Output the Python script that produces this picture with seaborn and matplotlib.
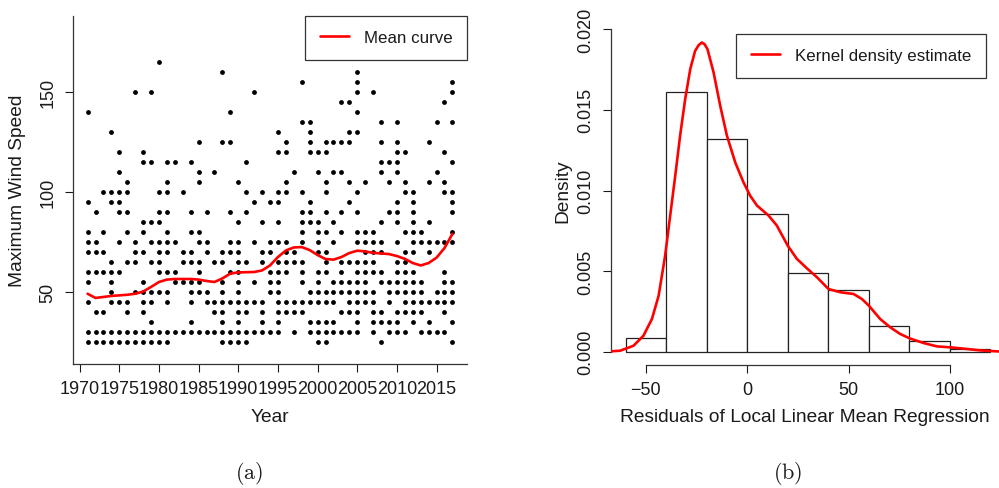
import matplotlib
matplotlib.use("Agg")
import matplotlib.pyplot as plt
import numpy as np
import pandas as pd
import seaborn as sns

# ---------------- Panel (a): maximum wind speed by year ----------------
# years in which each wind-speed level occurs (one dot per year/level)
yrs_165 = [1980]
yrs_160 = [1988, 2005]
yrs_155 = [1998, 2005, 2017]
yrs_150 = [1977, 1979, 1992, 2005, 2007, 2017]
yrs_145 = [2003, 2004, 2016]
yrs_140 = [1971, 1989, 2005]
yrs_135 = [1998, 1999, 2008, 2010, 2015, 2017]
yrs_130 = [1974, 1995, 1999, 2004, 2005]
yrs_125 = [1985, 1988, 1989, 1996, 1999, 2001, 2002, 2003, 2004, 2008, 2010, 2014]
yrs_120 = [1975, 1978, 1995, 1996, 1999, 2000, 2001, 2010, 2011, 2016]
yrs_115 = [1978, 1979, 1981, 1982, 1984, 1991, 2008, 2009, 2010, 2017]
yrs_110 = [1975, 1985, 1987, 1997, 2000, 2002, 2003, 2008, 2010, 2015]
yrs_105 = [1976, 1981, 1985, 1990, 1996, 2001, 2004, 2006, 2009, 2011, 2014, 2016]
yrs_100 = [1973, 1974, 1975, 1976, 1980, 1981, 1983, 1991, 1993, 1995, 1996, 1998,
           2001, 2005, 2011, 2012, 2016, 2017]
yrs_095 = [1971, 1974, 1975, 1992, 1994, 1995, 1999, 2004, 2010, 2012, 2017]
yrs_090 = [1972, 1975, 1976, 1980, 1981, 1984, 1986, 1989, 1991, 1998, 1999, 2001,
           2003, 2005, 2009, 2010, 2012, 2017]
yrs_085 = [1978, 1979, 1980, 1990, 1993, 1995, 1998, 1999, 2000, 2002, 2008, 2010,
           2012, 2014]
yrs_080 = [1971, 1973, 1976, 1978, 1981, 1984, 1985, 1998, 2000, 2001, 2003, 2005,
           2006, 2007, 2011, 2012, 2013, 2017]
yrs_075 = [1971, 1972, 1975, 1977, 1979, 1980, 1981, 1982, 1985, 1986, 1989, 1990,
           1992, 1994, 1995, 1996, 1998, 2000, 2002, 2005, 2006, 2007, 2008, 2010,
           2012, 2013, 2014, 2015, 2016, 2017]
yrs_070 = [1971, 1972, 1973, 1977, 1978, 1980, 1981, 1983, 1984, 1986, 1988, 1989,
           1990, 1993, 1994, 1996, 1997, 2000, 2001, 2006, 2007, 2008, 2011, 2012, 2014]
yrs_065 = [1974, 1976, 1977, 1979, 1980, 1983, 1984, 1985, 1987, 1988, 1990, 1991,
           1993, 1995, 1996, 1997, 1998, 2001, 2003, 2004, 2005, 2006, 2007, 2010, 2011]
yrs_060 = [1971, 1972, 1973, 1974, 1975, 1980, 1981, 1982, 1985, 1989, 1990, 1994,
           1995, 1996, 1998, 2000, 2001, 2003, 2005, 2006, 2007, 2008, 2010, 2011,
           2012, 2016]
yrs_055 = [1971, 1974, 1978, 1982, 1983, 1984, 1985, 1988, 1990, 1992, 1994, 1995,
           1998, 2000, 2002, 2003, 2004, 2005, 2006, 2008, 2009, 2010, 2011, 2012,
           2013, 2016, 2017]
yrs_050 = [1974, 1977, 1978, 1979, 1980, 1981, 1984, 1985, 1986, 1988, 1990, 1994,
           1995, 1999, 2000, 2001, 2002, 2003, 2004, 2005, 2006, 2007, 2009, 2010,
           2011, 2012, 2013, 2015, 2016, 2017]
yrs_045 = [1971, 1974, 1975, 1976, 1978, 1979, 1981, 1984, 1986, 1987, 1988, 1989,
           1990, 1991, 1992, 1993, 1995, 1996, 1997, 1998, 1999, 2000, 2001, 2002,
           2004, 2005, 2006, 2007, 2009, 2011, 2012, 2013, 2014, 2015, 2016, 2017]
yrs_040 = [1972, 1973, 1976, 1978, 1987, 1988, 1990, 1991, 1993, 1995, 1996, 1997,
           1998, 2003, 2004, 2005, 2007, 2008, 2010, 2011, 2012, 2013, 2016]
yrs_035 = [1979, 1984, 1988, 1990, 1993, 1995, 1999, 2000, 2001, 2002, 2005, 2007,
           2008, 2009, 2010, 2012, 2014, 2017]
yrs_030 = [1971, 1972, 1973, 1974, 1975, 1976, 1977, 1978, 1979, 1980, 1981, 1982,
           1983, 1984, 1985, 1986, 1987, 1988, 1989, 1990, 1991, 1992, 1993, 1994,
           1995, 1997, 1999, 2000, 2001, 2002, 2003, 2004, 2005, 2007, 2009, 2010,
           2011, 2013, 2014, 2015, 2016]
yrs_025 = [1971, 1972, 1973, 1974, 1975, 1976, 1977, 1978, 1979, 1980, 1981, 1988,
           1989, 1990, 1991, 2000, 2001, 2008, 2017]

speed_levels = [25, 30, 35, 40, 45, 50, 55, 60, 65, 70, 75, 80, 85, 90, 95, 100,
                105, 110, 115, 120, 125, 130, 135, 140, 145, 150, 155, 160, 165]
years_by_level = [yrs_025, yrs_030, yrs_035, yrs_040, yrs_045, yrs_050, yrs_055,
                  yrs_060, yrs_065, yrs_070, yrs_075, yrs_080, yrs_085, yrs_090,
                  yrs_095, yrs_100, yrs_105, yrs_110, yrs_115, yrs_120, yrs_125,
                  yrs_130, yrs_135, yrs_140, yrs_145, yrs_150, yrs_155, yrs_160,
                  yrs_165]

# mean curve (local linear regression), one value per year
mean_years = list(range(1971, 2018))
mean_curve = [49.1, 47.0, 47.5, 48.0, 48.3, 48.6, 49.1, 50.2, 52.5, 55.0, 56.2, 56.5,
              56.5, 56.5, 56.2, 55.5, 55.0, 56.8, 59.2, 59.8, 59.9, 60.0, 60.8, 63.3,
              67.5, 70.8, 72.3, 72.5, 71.0, 68.5, 66.5, 66.2, 67.5, 69.5, 70.7, 70.3,
              69.6, 69.3, 69.0, 68.0, 66.6, 64.5, 63.3, 64.5, 67.2, 72.0, 79.1]

year_ticks = [1970, 1975, 1980, 1985, 1990, 1995, 2000, 2005, 2010, 2015]
speed_ticks = [50, 100, 150]

# ---------------- Panel (b): residual histogram + KDE ----------------
bin_edges = [-60, -40, -20, 0, 20, 40, 60, 80, 100, 120]
bin_density = [0.00083, 0.01609, 0.01321, 0.00857, 0.00491, 0.00385, 0.00161,
               0.00064, 0.00019]

kde_x = [-67.6, -62.7, -56.1, -51.2, -47.0, -43.7, -40.5, -38.0, -35.5, -33.1,
         -30.6, -28.1, -25.7, -24.0, -22.4, -21.0, -19.6, -16.6, -13.3, -10.0,
         -5.9, -1.8, 1.5, 4.8, 10.5, 14.6, 20, 24.5, 29.4, 34.4, 40.1, 45.9, 52.5,
         56.6, 60, 65.6, 70.6, 75.5, 80.1, 87, 93.6, 100.2, 108.4, 115, 124.8]
kde_y = [0.00002, 0.00006, 0.00037, 0.00099, 0.00203, 0.00347, 0.00595, 0.00844,
         0.01092, 0.0134, 0.01567, 0.01753, 0.01866, 0.01901, 0.01918, 0.01907,
         0.01877, 0.01733, 0.01525, 0.0134, 0.01174, 0.0105, 0.00967, 0.00907,
         0.00845, 0.00783, 0.00658, 0.00576, 0.00518, 0.00462, 0.00389, 0.00369,
         0.00358, 0.00327, 0.00286, 0.00203, 0.00151, 0.0011, 0.00083, 0.00054,
         0.00033, 0.00027, 0.00017, 0.00008, 0.00001]

density_ticks = [0.000, 0.005, 0.010, 0.015, 0.020]
resid_ticks = [-50, 0, 50, 100]

# ---------------- build tables ----------------
scatter_df = pd.DataFrame(
    [(y, lvl) for lvl, yrs in zip(speed_levels, years_by_level) for y in yrs],
    columns=["Year", "Speed"])
mean_df = pd.DataFrame({"Year": mean_years, "Mean": mean_curve})
mids = [(a + b) / 2 for a, b in zip(bin_edges[:-1], bin_edges[1:])]
hist_df = pd.DataFrame({"mid": mids, "dens": bin_density})
kde_df = pd.DataFrame({"x": kde_x, "y": kde_y})

# ---------------- style ----------------
sns.set_style("ticks")
plt.rcParams["font.family"] = ["Liberation Sans", "DejaVu Sans"]
plt.rcParams["mathtext.fontset"] = "cm"
TXT = "#1a1a1a"
plt.rcParams["text.color"] = TXT
plt.rcParams["axes.labelcolor"] = TXT
plt.rcParams["xtick.color"] = TXT
plt.rcParams["ytick.color"] = TXT

W, H = 999, 489
fig = plt.figure(figsize=(W / 100, H / 100), dpi=100)
axL = fig.add_axes([73 / W, 124 / H, 394 / W, 348 / H])
axR = fig.add_axes([611 / W, 123.4 / H, 394 / W, 348.2 / H])

TICK_FS = 13
LAB_FS = 13.8
LEG_FS = 12.2

# ---- left panel ----
sns.scatterplot(data=scatter_df, x="Year", y="Speed", color="black", s=12,
                linewidth=0, ax=axL, legend=False, zorder=2)
sns.lineplot(data=mean_df, x="Year", y="Mean", color="red", lw=1.9, ax=axL,
             label="Mean curve", zorder=3)
axL.set_xlim(1969.16, 2018.84)
axL.set_ylim(13.9, 188.3)
axL.set_xticks(year_ticks)
axL.set_xticklabels([str(t) for t in year_ticks])
axL.set_yticks(speed_ticks)
axL.set_yticklabels([str(t) for t in speed_ticks], rotation=90, va="center")
for s in ["top", "right"]:
    axL.spines[s].set_visible(False)
for s in ["left", "bottom"]:
    axL.spines[s].set_color("#333333")
    axL.spines[s].set_linewidth(0.9)
axL.tick_params(direction="out", length=5.8, width=0.8, labelsize=TICK_FS, pad=6)
axL.set_xlabel("Year", fontsize=LAB_FS)
axL.set_ylabel("Maximum Wind Speed", fontsize=LAB_FS)
axL.xaxis.set_label_coords(0.5, (489 - 418 - 124) / 348)
axL.xaxis.label.set_va("center")
axL.yaxis.set_label_coords((18 - 73) / 394, 0.5)
axL.yaxis.label.set_va("center")
legL = axL.legend(loc="upper right", frameon=True, fancybox=False, borderaxespad=0,
                  fontsize=LEG_FS, handlelength=1.75, handletextpad=0.85,
                  borderpad=0.85)
legL.get_frame().set_edgecolor("#333333")
legL.get_frame().set_linewidth(0.9)
legL.get_frame().set_alpha(1)

# ---- right panel ----
sns.histplot(data=hist_df, x="mid", weights="dens", bins=bin_edges, stat="count",
             color="white", edgecolor="#222222", linewidth=0.9, alpha=1, ax=axR,
             zorder=2)
sns.lineplot(data=kde_df, x="x", y="y", color="red", lw=1.9, ax=axR,
             label="Kernel density estimate", zorder=3)
axR.set_xlim(-67.2, 127.2)
axR.set_ylim(-0.0008, 0.0208)
axR.set_xticks(resid_ticks)
axR.set_xticklabels([str(t).replace("-", "\u2212") for t in resid_ticks])
axR.set_yticks(density_ticks)
axR.set_yticklabels([f"{t:.3f}" for t in density_ticks], rotation=90, va="center")
for s in ["top", "right"]:
    axR.spines[s].set_visible(False)
for s in ["left", "bottom"]:
    axR.spines[s].set_color("#333333")
    axR.spines[s].set_linewidth(0.9)
axR.spines["left"].set_bounds(0, 0.02)
axR.spines["bottom"].set_bounds(-50, 100)
axR.tick_params(direction="out", length=5.8, width=0.8, labelsize=TICK_FS, pad=6)
axR.set_xlabel("Residuals of Local Linear Mean Regression", fontsize=LAB_FS)
axR.set_ylabel("Density", fontsize=LAB_FS)
axR.xaxis.set_label_coords((805 - 611) / 394, (489 - 418 - 123.4) / 348.2)
axR.xaxis.label.set_va("center")
axR.yaxis.set_label_coords((563 - 611) / 394, 0.5)
axR.yaxis.label.set_va("center")
legR = axR.legend(loc="upper right", bbox_to_anchor=(985.5 / W, 1 - 34.7 / H),
                  bbox_transform=fig.transFigure, frameon=True, fancybox=False,
                  borderaxespad=0, fontsize=LEG_FS, handlelength=1.75,
                  handletextpad=0.85, borderpad=0.85)
legR.get_frame().set_edgecolor("#333333")
legR.get_frame().set_linewidth(0.9)
legR.get_frame().set_alpha(1)

# ---- panel captions ----
fig.text(249.5 / W, 1 - 474 / H, r"$\mathrm{(a)}$", ha="center", va="center",
         fontsize=16)
fig.text(787.5 / W, 1 - 474 / H, r"$\mathrm{(b)}$", ha="center", va="center",
         fontsize=16)

fig.savefig("out.png", dpi=100)
